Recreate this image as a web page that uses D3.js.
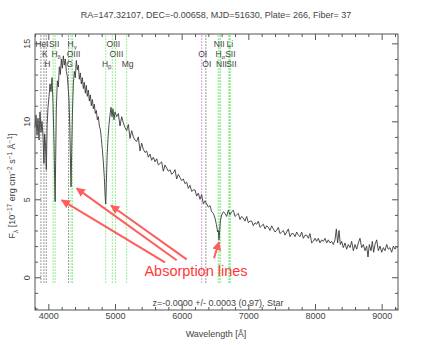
<!DOCTYPE html>
<html><head><meta charset="utf-8">
<script src="https://cdn.jsdelivr.net/npm/d3@7"></script>
<style>body{margin:0;background:#fff}svg{display:block}text{font-family:"Liberation Sans",Arial,sans-serif}</style>
</head><body>
<svg id="c" width="432" height="345"></svg>
<script>
// ---- data ----
const wavelength = [3800,3815,3830,3845,3860,3875,3890,3905,3920,3934,3945,3958,3970,3982,3995,4010,4025,4040,4055,4070,4085,4095,4102,4110,4120,4135,4150,4165,4180,4195,4210,4225,4240,4255,4270,4285,4300,4310,4322,4333,4341,4350,4362,4375,4390,4405,4420,4435,4450,4465,4480,4495,4510,4525,4540,4555,4570,4585,4600,4615,4630,4645,4660,4675,4690,4705,4720,4735,4750,4765,4780,4795,4810,4825,4840,4852,4861,4870,4882,4895,4910,4925,4940,4955,4970,4985,
5000,5025,5050,5075,5100,5125,5150,5175,5200,5225,5250,5275,5300,5325,5350,5375,5400,5425,5450,5475,5500,5525,5550,5575,5600,5625,5650,5675,5700,5725,5750,5775,5800,5825,5850,5875,5900,5925,5950,5975,6000,6025,6050,6075,6100,6125,6150,6175,6200,6225,6250,6275,6300,6325,6350,6375,6400,6425,6450,6475,6500,6520,6540,6550,6560,6570,6580,6600,6625,6650,6675,6700,6725,6750,6775,6800,6825,6850,6875,6900,6925,6950,6975,7000,7025,7050,7075,7100,7125,7150,7175,7200,7225,7250,7275,7300,7325,7350,7375,7400,7425,7450,7475,7500,7525,7550,7575,7600,7625,7650,7675,7700,7725,7750,7775,7800,7825,7850,7875,7900,7925,7950,7975,8000,8025,8050,8075,8100,8125,8150,8175,8200,8225,8250,8275,8300,8320,8340,8360,8380,8400,8425,8450,8475,8500,8525,8550,8575,8600,8625,8650,8675,8700,8725,8750,8775,8795,8815,8840,8860,8880,8900,8925,8950,8975,9000,9025,9050,9075,9100,9125,9150,9175,9200,9225,9240];
const flux = [9.6,10.4,9.1,10.2,8.8,10.6,9.3,10.0,9.0,7.3,9.2,8.4,6.9,9.8,10.9,11.6,12.4,11.9,12.8,11.2,8.6,6.2,4.85,7.5,10.8,12.6,12.2,13.5,13.0,14.0,13.4,14.2,13.6,14.0,13.2,12.9,12.0,11.4,9.6,7.2,5.8,8.0,10.6,12.4,13.2,12.8,13.9,13.3,13.6,12.7,13.1,12.4,12.8,12.1,12.5,11.8,12.3,11.6,12.0,11.3,11.7,11.0,11.4,10.8,11.1,10.5,10.7,10.1,10.3,9.7,9.5,8.9,8.2,7.4,6.4,5.2,4.7,6.0,7.8,8.9,9.8,10.4,10.9,10.3,10.8,10.1,
10.6,10.3,10.5,9.7,10.3,9.9,9.6,9.4,9.8,8.9,9.4,9.0,8.8,8.7,9.0,8.1,8.6,8.2,8.0,8.1,7.7,7.9,7.5,7.7,7.4,7.6,7.2,7.3,7.4,6.8,7.2,7.0,6.8,6.9,6.6,6.7,6.9,6.3,6.6,6.4,6.2,6.3,6.0,6.1,5.7,5.9,5.5,5.6,5.6,5.2,5.4,5.0,5.3,4.7,4.9,4.7,4.5,4.6,4.2,4.1,3.8,3.4,2.9,3.0,2.4,3.0,3.6,4.0,4.2,4.1,3.9,4.3,4.0,4.2,4.3,3.9,4.0,4.1,3.7,3.9,3.8,3.6,3.9,3.5,3.6,3.6,3.3,3.5,3.4,3.6,3.2,3.3,3.4,3.1,3.3,3.2,3.0,3.3,3.1,2.9,3.0,3.2,2.8,2.9,3.0,2.7,2.9,3.1,2.6,2.8,2.8,2.6,2.9,2.7,2.6,2.9,2.5,2.7,2.7,2.5,2.8,2.2,2.3,2.5,2.3,2.5,2.2,2.4,2.3,2.5,2.2,2.4,2.2,2.3,2.1,2.4,3.1,2.2,3.0,2.1,2.3,1.9,2.2,1.8,2.1,1.9,2.3,1.7,2.1,1.8,2.2,2.5,1.9,2.1,1.7,2.0,1.3,2.1,1.7,2.3,1.6,2.1,2.4,1.7,2.0,1.6,1.9,1.7,2.1,1.8,1.9,1.6,2.0,1.8,2.0,1.9];

const lineWave = [3889,3934,3969,4072,4102,4304,4341,4363,4861,4959,5007,5175,6300,6363,6548,6563,6583,6707,6716,6731];
const lineName = ["HeI","K","H","SII","H","G","H","OIII","H","OIII","OIII","Mg","OI","OI","NII","H","NII","Li","SII","SII"];
const lineSub  = ["","","","","δ","","γ","","β","","","","","","","α","","","",""];
const lineRow  = [1,2,3,1,2,3,1,2,3,1,2,3,2,3,1,2,3,1,2,3];
const lineKind = ["abs","abs","abs","em","em","abs","em","em","em","em","em","em","sky","abs","em","em","em","em","em","em"];

const xMajor = [4000,5000,6000,7000,8000,9000];
const yMajor = [0,5,10,15];

const arrowTail = [[5750,0.96],[5925,1.09],[6075,1.15],[6485,1.22]];
const arrowTip  = [[4200,4.94],[4425,5.70],[4940,4.60],[6560,2.26]];
const noteText = "Absorption lines";
const notePos = [6215,0.1];

const titleText = "RA=147.32107, DEC=-0.00658, MJD=51630, Plate= 266, Fiber= 37";
const zText = "z=-0.0000 +/- 0.0003 (0.97), Star";

// ---- drawing ----
const svg = d3.select("#c");
const L=35,R=398,T=34,B=310;
const x = d3.scaleLinear().domain([3800,9245]).range([L,R]);
const y = d3.scaleLinear().domain([-2.1,15.6]).range([B,T]);
const ink="#444";
const kindColor = {abs:"#333", em:"#33dd33", sky:"#cc33cc"};

const xMinor = d3.range(3800,9245,200).filter(v=>v%1000!==0);
const yMinor = d3.range(-2,15.6,1).filter(v=>v%5!==0);

// vertical line markers
svg.append("g").selectAll("line").data(lineWave).join("line")
  .attr("x1",d=>x(d)).attr("x2",d=>x(d))
  .attr("y1",y(15.5)).attr("y2",y(-0.4))
  .attr("stroke",(d,i)=>kindColor[lineKind[i]])
  .attr("stroke-width",1).attr("stroke-dasharray","1,2");

// labels
const rowY = {1:46.5,2:56.5,3:67};
const lab = svg.append("g").selectAll("text").data(lineWave).join("text")
  .attr("x",d=>x(d)+1).attr("y",(d,i)=>rowY[lineRow[i]])
  .attr("text-anchor","middle").attr("font-size",8.5).attr("fill",ink);
lab.each(function(d,i){
  const t=d3.select(this);
  t.append("tspan").text(lineName[i]);
  if(lineSub[i]) t.append("tspan").attr("dy",2).attr("font-size",6).text(lineSub[i]);
});

// spectrum
const pts = wavelength.map((w,i)=>[w,flux[i]]);
svg.append("path").datum(pts)
  .attr("fill","none").attr("stroke","#3a3a3a").attr("stroke-width",0.9)
  .attr("d",d3.line().x(d=>x(d[0])).y(d=>y(d[1])));

// axes (ticks inside)
function styleAxis(g){ g.selectAll(".domain").remove(); g.selectAll("line").attr("stroke","#555"); g.selectAll("text").attr("fill",ink).attr("font-size",9).attr("font-family","Liberation Sans, Arial, sans-serif"); }
svg.append("g").attr("transform",`translate(0,${B})`)
  .call(d3.axisBottom(x).tickValues(xMajor).tickSize(-6).tickPadding(3).tickFormat(d3.format("d"))).call(styleAxis);
svg.append("g").attr("transform",`translate(0,${B})`)
  .call(d3.axisBottom(x).tickValues(xMinor).tickSize(-3).tickFormat("")).call(styleAxis);
svg.append("g").attr("transform",`translate(0,${T})`)
  .call(d3.axisTop(x).tickValues(xMajor).tickSize(-6).tickFormat("")).call(styleAxis);
svg.append("g").attr("transform",`translate(0,${T})`)
  .call(d3.axisTop(x).tickValues(xMinor).tickSize(-3).tickFormat("")).call(styleAxis);
const yl = svg.append("g").attr("transform",`translate(${L},0)`)
  .call(d3.axisLeft(y).tickValues(yMajor).tickSize(-6).tickFormat(d3.format("d"))).call(styleAxis);
yl.selectAll("text").attr("x",null).attr("dy",null).attr("text-anchor","middle")
  .attr("transform","translate(-5,0) rotate(-90)");
svg.append("g").attr("transform",`translate(${L},0)`)
  .call(d3.axisLeft(y).tickValues(yMinor).tickSize(-3).tickFormat("")).call(styleAxis);
svg.append("g").attr("transform",`translate(${R},0)`)
  .call(d3.axisRight(y).tickValues(yMajor).tickSize(-6).tickFormat("")).call(styleAxis);
svg.append("g").attr("transform",`translate(${R},0)`)
  .call(d3.axisRight(y).tickValues(yMinor).tickSize(-3).tickFormat("")).call(styleAxis);

// frame
svg.append("rect").attr("x",L).attr("y",T).attr("width",R-L).attr("height",B-T)
  .attr("fill","none").attr("stroke","#555").attr("stroke-width",1);

// texts
svg.append("text").attr("x",216).attr("y",18).attr("text-anchor","middle")
  .attr("font-size",9).attr("fill",ink).text(titleText);
svg.append("text").attr("x",218).attr("y",306).attr("text-anchor","middle")
  .attr("font-size",9).attr("fill",ink).text(zText);
svg.append("text").attr("x",216).attr("y",337).attr("text-anchor","middle")
  .attr("font-size",9).attr("fill",ink).text("Wavelength [Å]");
const yt = svg.append("text").attr("transform","translate(15,186) rotate(-90)")
  .attr("text-anchor","middle").attr("font-size",9).attr("fill",ink);
yt.append("tspan").text("F");
yt.append("tspan").attr("dy",2.5).attr("font-size",6.5).text("λ");
yt.append("tspan").attr("dy",-2.5).text(" [10");
yt.append("tspan").attr("dy",-3.5).attr("font-size",6.5).text("−17");
yt.append("tspan").attr("dy",3.5).text(" erg cm");
yt.append("tspan").attr("dy",-3.5).attr("font-size",6.5).text("−2");
yt.append("tspan").attr("dy",3.5).text(" s");
yt.append("tspan").attr("dy",-3.5).attr("font-size",6.5).text("−1");
yt.append("tspan").attr("dy",3.5).text(" Å");
yt.append("tspan").attr("dy",-3.5).attr("font-size",6.5).text("−1");
yt.append("tspan").attr("dy",3.5).text("]");

// annotation arrows
const red="#ff5c5c";
svg.append("defs").append("marker").attr("id","ah").attr("viewBox","0 0 10 10")
  .attr("refX",9).attr("refY",5).attr("markerWidth",4.5).attr("markerHeight",4.5)
  .attr("markerUnits","strokeWidth").attr("orient","auto")
  .append("path").attr("d","M0,0 L10,5 L0,10 z").attr("fill",red);
svg.append("g").selectAll("line").data(arrowTail).join("line")
  .attr("x1",d=>x(d[0])).attr("y1",d=>y(d[1]))
  .attr("x2",(d,i)=>x(arrowTip[i][0])).attr("y2",(d,i)=>y(arrowTip[i][1]))
  .attr("stroke",red).attr("stroke-width",2).attr("marker-end","url(#ah)");
svg.append("text").attr("x",x(notePos[0])).attr("y",y(notePos[1]))
  .attr("text-anchor","middle").attr("font-size",14.5).attr("fill","#ff3838").text(noteText);
</script>
</body></html>
